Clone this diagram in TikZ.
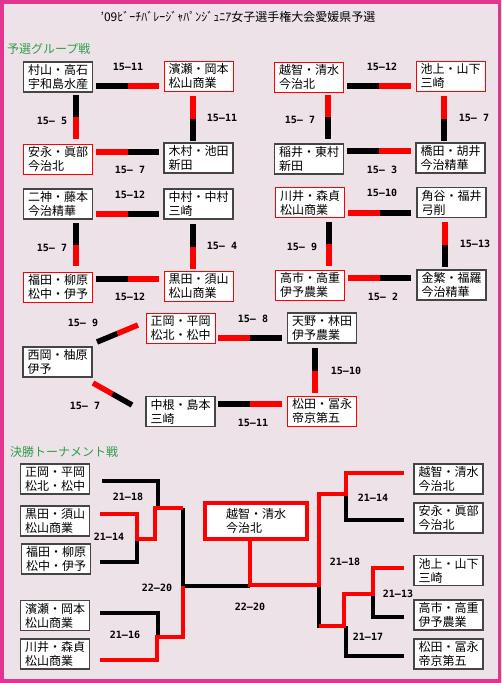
\documentclass[tikz,border=0pt]{standalone}
\usepackage{fontspec}
\newfontfamily\jp{Noto Sans CJK JP}
\newfontfamily\scorefont{DejaVu Sans Mono}
\definecolor{bgc}{HTML}{EEE2E9}
\definecolor{frm}{HTML}{E2358F}
\definecolor{grn}{HTML}{2F9E4A}
\definecolor{rd}{HTML}{FF0000}
\definecolor{bx}{HTML}{454545}
\tikzset{
  bb/.style={draw=bx, line width=1.4pt, fill=white, minimum width=69pt, minimum height=30pt,
    inner sep=0pt, align=left, font=\jp\fontsize{12}{14}\selectfont},
  rb/.style={bb, draw=rd, line width=0.9pt},
  sc/.style={font=\scorefont\bfseries\fontsize{10}{12}\selectfont, inner sep=0pt},
  kb/.style={line width=5.5pt, black},
  rbar/.style={line width=5.5pt, rd},
  kt/.style={line width=4pt, black},
  rt/.style={line width=4.4pt, rd},
  hd/.style={anchor=west, text=grn, inner sep=0pt, font=\jp\fontsize{12}{14}\selectfont}
}
\begin{document}
\begin{tikzpicture}[x=1pt,y=-1pt]
\useasboundingbox (0,0) rectangle (502,683);
\fill[bgc] (0,0) rectangle (502,683);
\draw[frm, line width=3.5pt] (1.75,1.75) rectangle (499.5,681.2);

\node[inner sep=0pt, font=\jp\fontsize{12}{14}\selectfont] (title) at (238,17) {’09ﾋﾞｰﾁﾊﾞﾚｰｼﾞｬﾊﾟﾝｼﾞｭﾆｱ女子選手権大会愛媛県予選};
\node[hd] (h1) at (7,49) {予選グループ戦};
\node[hd] (h2) at (10,452) {決勝トーナメント戦};

% ---------- Group 1
\node[bb] (g1a) at (58,77) {村山・高石\\宇和島水産};
\node[rb] (g1b) at (198.5,76) {濱瀬・岡本\\松山商業};
\node[rb] (g1c) at (58,159) {安永・眞部\\今治北};
\node[bb] (g1d) at (198.5,158) {木村・池田\\新田};
\draw[kb] (96,86) -- (127.5,86); \draw[rbar] (127.5,86) -- (159,86);
\draw[kb] (76,95) -- (76,117); \draw[rbar] (76,117) -- (76,139);
\draw[rbar] (193,96) -- (193,118.5); \draw[kb] (193,118.5) -- (193,141);
\draw[rbar] (96,152) -- (127.5,152); \draw[kb] (127.5,152) -- (159,152);
\node[sc] (s1a) at (128,67) {15–11};
\node[sc] (s1b) at (52,121) {15–\phantom{1}5};
\node[sc] (s1c) at (222,118) {15–11};
\node[sc] (s1d) at (130,170) {15–\phantom{1}7};

% ---------- Group 2
\node[rb] (g2a) at (309,77) {越智・清水\\今治北};
\node[rb] (g2b) at (450.5,76) {池上・山下\\三崎};
\node[bb] (g2c) at (309,159) {稲井・東村\\新田};
\node[bb] (g2d) at (450.5,158) {橋田・胡井\\今治精華};
\draw[kb] (347,86) -- (379,86); \draw[rbar] (379,86) -- (411,86);
\draw[rbar] (328,95) -- (328,117); \draw[kb] (328,117) -- (328,139);
\draw[rbar] (444,96) -- (444,118.5); \draw[kb] (444,118.5) -- (444,141);
\draw[kb] (347,151) -- (379,151); \draw[rbar] (379,151) -- (411,151);
\node[sc] (s2a) at (382,67) {15–12};
\node[sc] (s2b) at (300,120) {15–\phantom{1}7};
\node[sc] (s2c) at (474,118) {15–\phantom{1}7};
\node[sc] (s2d) at (382,170) {15–\phantom{1}3};

% ---------- Group 3
\node[bb] (g3a) at (58,204) {二神・藤本\\今治精華};
\node[bb] (g3b) at (198.5,204) {中村・中村\\三崎};
\node[rb] (g3c) at (58,287) {福田・柳原\\松中・伊予};
\node[rb] (g3d) at (198.5,286) {黒田・須山\\松山商業};
\draw[rbar] (96,214) -- (127.5,214); \draw[kb] (127.5,214) -- (159,214);
\draw[kb] (76,223) -- (76,244.5); \draw[rbar] (76,244.5) -- (76,266);
\draw[kb] (193,224) -- (193,246.5); \draw[rbar] (193,246.5) -- (193,269);
\draw[kb] (96,279) -- (127.5,279); \draw[rbar] (127.5,279) -- (159,279);
\node[sc] (s3a) at (130,195) {15–12};
\node[sc] (s3b) at (52,248) {15–\phantom{1}7};
\node[sc] (s3c) at (222,246) {15–\phantom{1}4};
\node[sc] (s3d) at (130,297) {15–12};

% ---------- Group 4
\node[rb] (g4a) at (310,202.5) {川井・森貞\\松山商業};
\node[bb] (g4b) at (451.5,202.5) {角谷・福井\\弓削};
\node[rb] (g4c) at (310,285) {高市・高重\\伊予農業};
\node[bb] (g4d) at (451.5,285) {金繁・福羅\\今治精華};
\draw[rbar] (348,213) -- (379.5,213); \draw[kb] (379.5,213) -- (411,213);
\draw[kb] (329,222) -- (329,244); \draw[rbar] (329,244) -- (329,266);
\draw[rbar] (445,222) -- (445,244.5); \draw[kb] (445,244.5) -- (445,267);
\draw[rbar] (348,278) -- (379.5,278); \draw[kb] (379.5,278) -- (411,278);
\node[sc] (s4a) at (382,193) {15–10};
\node[sc] (s4b) at (302,247) {15–\phantom{1}9};
\node[sc] (s4c) at (475,244) {15–13};
\node[sc] (s4d) at (383,297) {15–\phantom{1}2};

% ---------- Group 5
\node[rb] (g5a) at (180.5,328) {正岡・平岡\\松北・松中};
\node[bb] (g5b) at (322,328) {天野・林田\\伊予農業};
\node[bb] (g5c) at (57.5,362) {西岡・柚原\\伊予};
\node[bb] (g5d) at (180.5,411.5) {中根・島本\\三崎};
\node[rb] (g5e) at (322,411) {松田・冨永\\帝京第五};
\draw[kb] (97,342) -- (117.5,333.5); \draw[rbar] (117.5,333.5) -- (138,325);
\draw[rbar] (93,383) -- (112.5,394); \draw[kb] (112.5,394) -- (132,405);
\draw[rbar] (218,338) -- (250,338); \draw[kb] (250,338) -- (282,338);
\draw[kb] (315,348) -- (315,370.5); \draw[rbar] (315,370.5) -- (315,393);
\draw[kb] (218,404) -- (250,404); \draw[rbar] (250,404) -- (282,404);
\node[sc] (s5a) at (83,323) {15–\phantom{1}9};
\node[sc] (s5b) at (85,406) {15–\phantom{1}7};
\node[sc] (s5c) at (253,319) {15–\phantom{1}8};
\node[sc] (s5d) at (346,371) {15–10};
\node[sc] (s5e) at (253,423) {15–11};

% ---------- Tournament
\node[bb] (t1) at (55,479) {正岡・平岡\\松北・松中};
\node[bb] (t2) at (55,521) {黒田・須山\\松山商業};
\node[bb] (t3) at (56,559) {福田・柳原\\松中・伊予};
\node[bb] (t4) at (55,615.5) {濱瀬・岡本\\松山商業};
\node[bb] (t5) at (55,654) {川井・森貞\\松山商業};
\node[bb] (r1) at (448.5,479) {越智・清水\\今治北};
\node[bb] (r2) at (448.5,518) {安永・眞部\\今治北};
\node[bb] (r3) at (448.5,570.5) {池上・山下\\三崎};
\node[bb] (r4) at (448.5,615) {高市・高重\\伊予農業};
\node[bb] (r5) at (448.5,654) {松田・冨永\\帝京第五};
\node[draw=rd, line width=4pt, fill=white, minimum width=102pt, minimum height=36pt,
  inner sep=0pt, align=left, font=\jp\fontsize{12}{14}\selectfont] (champ) at (256,521) {越智・清水\\今治北};

% black lines
\draw[kt] (102,481) -- (158,481) -- (158,508);
\draw[kt] (100,562) -- (137,562) -- (137,539);
\draw[kt] (183,508) -- (183,586) -- (250,586);
\draw[kt] (100,613) -- (158,613) -- (158,637);
\draw[kt] (404,520) -- (346,520) -- (346,494);
\draw[kt] (319,585) -- (319,628);
\draw[kt] (404,617) -- (373,617) -- (373,594);
\draw[kt] (404,656) -- (346,656) -- (346,626);
% red lines
\draw[rt] (100,514) -- (137,514) -- (137,539) -- (155,539) -- (155,508) -- (183,508);
\draw[rt] (100,660) -- (157,660) -- (157,637) -- (183,637) -- (183,586);
\draw[rt] ([xshift=-6pt]champ.south) -- (250,585) -- (319,585) -- (319,494) -- (346,494) -- (346,473) -- (404,473);
\draw[rt] (319,626) -- (344,626) -- (344,594) -- (373,594) -- (373,568) -- (404,568);

\node[sc] (u1) at (128,497) {21–18};
\node[sc] (u2) at (109,537) {21–14};
\node[sc] (u3) at (157,588) {22–20};
\node[sc] (u4) at (125,635) {21–16};
\node[sc] (u5) at (250,607) {22–20};
\node[sc] (u6) at (373,498) {21–14};
\node[sc] (u7) at (345,562) {21–18};
\node[sc] (u8) at (398,594) {21–13};
\node[sc] (u9) at (368,637) {21–17};
\end{tikzpicture}
\end{document}
